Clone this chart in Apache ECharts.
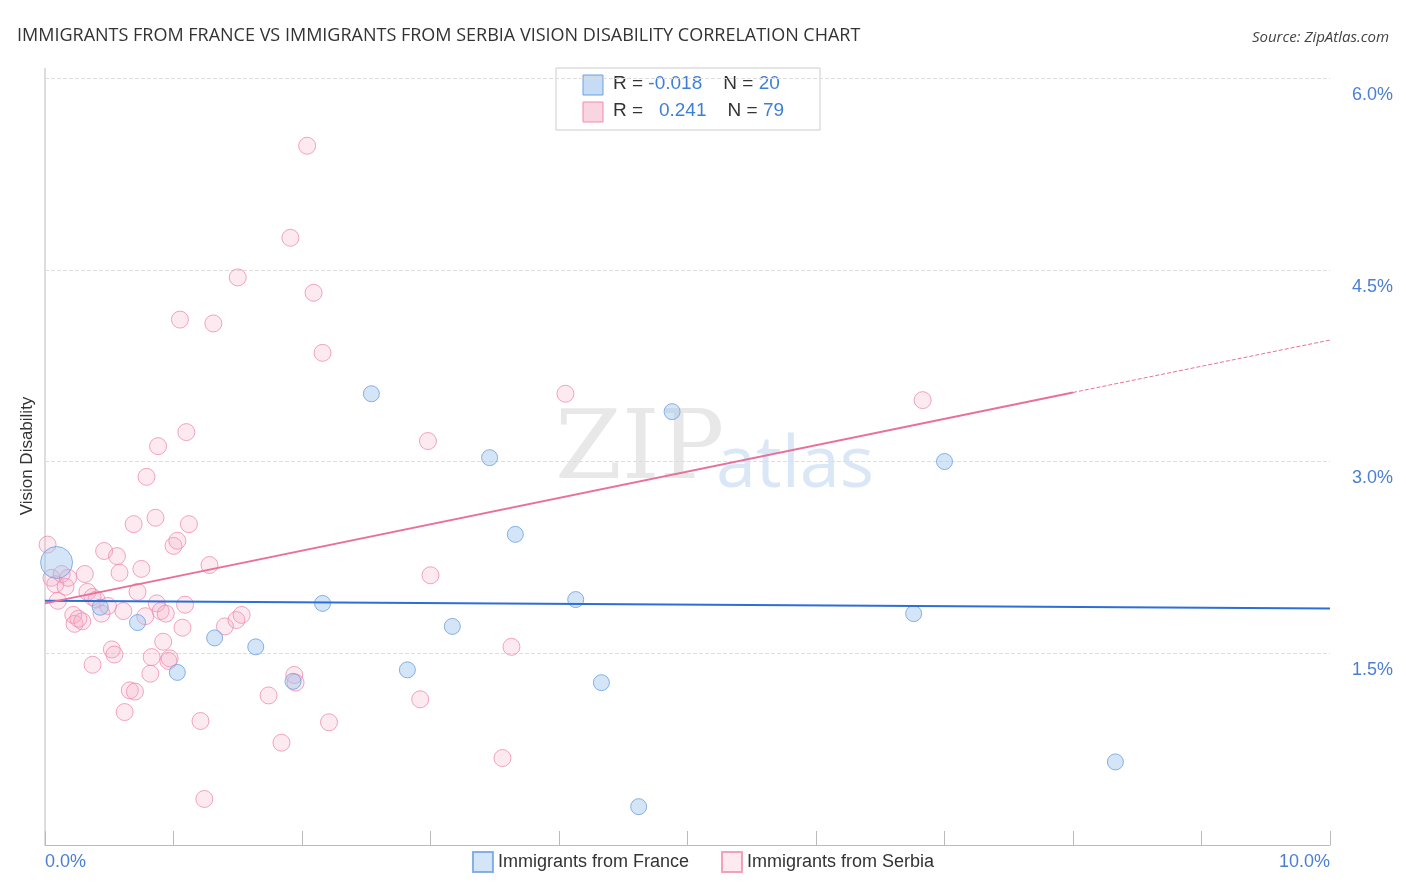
<!DOCTYPE html>
<html>
<head>
<meta charset="UTF-8">
<script src="https://cdn.jsdelivr.net/npm/echarts@6/dist/echarts.min.js"></script>
<style>body{margin:0;background:#fff}#c{width:1406px;height:892px}</style>
</head>
<body>
<div id="c"></div>
<script>
// x: percent, y: percent
var franceX = [0.09,0.72,1.03,1.32,1.64,1.93,2.16,2.54,2.82,3.17,3.46,3.66,4.13,4.33,4.62,4.88,6.76,7.0,8.33,0.43];
var franceY = [2.21,1.74,1.35,1.62,1.55,1.28,1.89,3.53,1.37,1.71,3.03,2.43,1.92,1.27,0.30,3.39,1.81,3.0,0.65,1.86];
var franceSize = [32,16,16,16,16,16,16,16,16,16,16,16,16,16,16,16,16,16,16,16];
var serbiaX = [0.02,0.05,0.08,0.1,0.13,0.16,0.18,0.22,0.23,0.26,0.29,0.31,0.33,0.37,0.37,0.4,0.44,0.46,0.49,0.52,0.54,0.56,0.58,0.61,0.62,0.66,0.69,0.7,0.72,0.75,0.78,0.79,0.82,0.83,0.86,0.87,0.88,0.9,0.92,0.94,0.96,0.97,1.0,1.03,1.05,1.07,1.09,1.1,1.12,1.21,1.24,1.28,1.31,1.4,1.49,1.5,1.53,1.74,1.84,1.91,1.94,1.95,2.04,2.09,2.16,2.21,2.92,2.98,3.0,3.56,3.63,4.05,6.83];
var serbiaY = [2.35,2.09,2.04,1.91,2.12,2.02,2.09,1.8,1.73,1.77,1.75,2.12,1.98,1.94,1.41,1.92,1.81,2.3,1.87,1.53,1.49,2.26,2.13,1.83,1.04,1.21,2.51,1.2,1.98,2.16,1.79,2.88,1.34,1.47,2.56,1.89,3.12,1.83,1.59,1.81,1.44,1.46,2.34,2.38,4.11,1.7,1.88,3.23,2.51,0.97,0.36,2.19,4.08,1.71,1.76,4.44,1.8,1.17,0.8,4.75,1.33,1.27,5.47,4.32,3.85,0.96,1.14,3.16,2.11,0.68,1.55,3.53,3.48];
var franceTrend = [[0,1.91],[10,1.85]];
var serbiaTrend = [[0,1.89],[8,3.54]];
var serbiaTrendDash = [[8,3.54],[10,3.95]];

function pts(xs, ys){ return xs.map(function(x,i){ return [x, ys[i]]; }); }

var chart = echarts.init(document.getElementById('c'));
chart.setOption({
  animation: false,
  title: [{
    text: 'IMMIGRANTS FROM FRANCE VS IMMIGRANTS FROM SERBIA VISION DISABILITY CORRELATION CHART',
    left: 12, top: 22,
    textStyle: {fontSize: 18, fontWeight: 'normal', color: '#333', fontFamily: 'Open Sans'}
  }, {
    text: 'Source: ZipAtlas.com', right: 12, top: 25,
    textStyle: {fontSize: 15, fontWeight: 'normal', fontStyle: 'italic', color: '#444', fontFamily: 'Open Sans'}
  }],
  grid: {left: 45, right: 76, top: 78, bottom: 47, outerBoundsMode: 'none'},
  xAxis: {
    type: 'value', min: 0, max: 10, interval: 1,
    axisLine: {lineStyle: {color: '#bbb'}},
    axisTick: {show: true, inside: true, length: 14, lineStyle: {color: '#bbb'}},
    splitLine: {show: false},
    axisLabel: {
      color: '#4a7fd4', fontSize: 18, margin: 8,
      formatter: function(v){ return v === 0 ? '0.0%' : (v === 10 ? '10.0%' : ''); },
      alignMinLabel: 'left', alignMaxLabel: 'right'
    }
  },
  yAxis: {
    type: 'value', min: 0, max: 6, interval: 1.5, position: 'right',
    axisLine: {show: false}, axisTick: {show: false},
    splitLine: {lineStyle: {type: 'dashed', color: '#ddd'}},
    axisLabel: {
      color: '#4a7fd4', fontSize: 18, align: 'right', margin: 63,
      verticalAlign: 'top', padding: [8,0,0,0],
      formatter: function(v){ return v === 0 ? '' : v.toFixed(1) + '%'; }
    }
  },
  legend: {
    bottom: 14, left: 'center', itemWidth: 20, itemHeight: 20, itemGap: 32, icon: 'rect',
    textStyle: {fontSize: 18, color: '#333'},
    data: ['Immigrants from France', 'Immigrants from Serbia']
  },
  graphic: [
    {type: 'line', shape: {x1: 45, y1: 68, x2: 45, y2: 845}, style: {stroke: '#bbb', lineWidth: 1}},
    {type: 'text', x: 36, y: 456, rotation: Math.PI / 2, style: {text: 'Vision Disability', fontSize: 17, fill: '#333', align: 'center', verticalAlign: 'bottom'}},
    {type: 'text', left: 555, top: 405, style: {text: 'ZIP', fontSize: 96, fontFamily: 'DejaVu Serif', fill: 'rgba(190,190,190,0.35)'}},
    {type: 'text', left: 716, top: 430, style: {text: 'atlas', fontSize: 72, fontFamily: 'Open Sans', fill: 'rgba(150,185,230,0.35)'}},
    {type: 'rect', shape: {x: 556, y: 68, width: 264, height: 62}, style: {fill: '#fff', stroke: '#ccc', lineWidth: 1}},
    {type: 'rect', shape: {x: 583, y: 75, width: 20, height: 20}, style: {fill: 'rgba(160,196,240,0.6)', stroke: '#6a9fe0'}},
    {type: 'rect', shape: {x: 583, y: 102, width: 20, height: 20}, style: {fill: 'rgba(244,170,195,0.5)', stroke: '#f08cb0'}},
    {type: 'text', left: 613, top: 74, style: {text: '{a|R = }{b|-0.018}{a|    N = }{b|20}', rich: {a: {fontSize: 19, fill: '#333'}, b: {fontSize: 19, fill: '#3d7fd6'}}}},
    {type: 'text', left: 613, top: 101, style: {text: '{a|R = }{b|  0.241}{a|    N = }{b|79}', rich: {a: {fontSize: 19, fill: '#333'}, b: {fontSize: 19, fill: '#3d7fd6'}}}}
  ],
  series: [{
    name: 'Immigrants from France', type: 'scatter',
    data: pts(franceX, franceY),
    symbolSize: function(v, p){ return franceSize[p.dataIndex]; },
    itemStyle: {color: 'rgba(160,196,240,0.55)', borderColor: '#6a9fe0', borderWidth: 1}, z: 3
  }, {
    name: 'Immigrants from Serbia', type: 'scatter',
    data: pts(serbiaX, serbiaY), symbolSize: 17,
    itemStyle: {color: 'rgba(244,170,195,0.3)', borderColor: '#f08cb0', borderWidth: 1}, z: 2
  }, {
    type: 'line', data: franceTrend, symbol: 'none', silent: true,
    lineStyle: {color: '#2c6fd6', width: 2}, z: 4
  }, {
    type: 'line', data: serbiaTrend, symbol: 'none', silent: true,
    lineStyle: {color: '#e8709a', width: 2}, z: 4
  }, {
    type: 'line', data: serbiaTrendDash, symbol: 'none', silent: true,
    lineStyle: {color: '#e8709a', width: 1, type: 'dashed'}, z: 4
  }]
});
</script>
</body>
</html>
